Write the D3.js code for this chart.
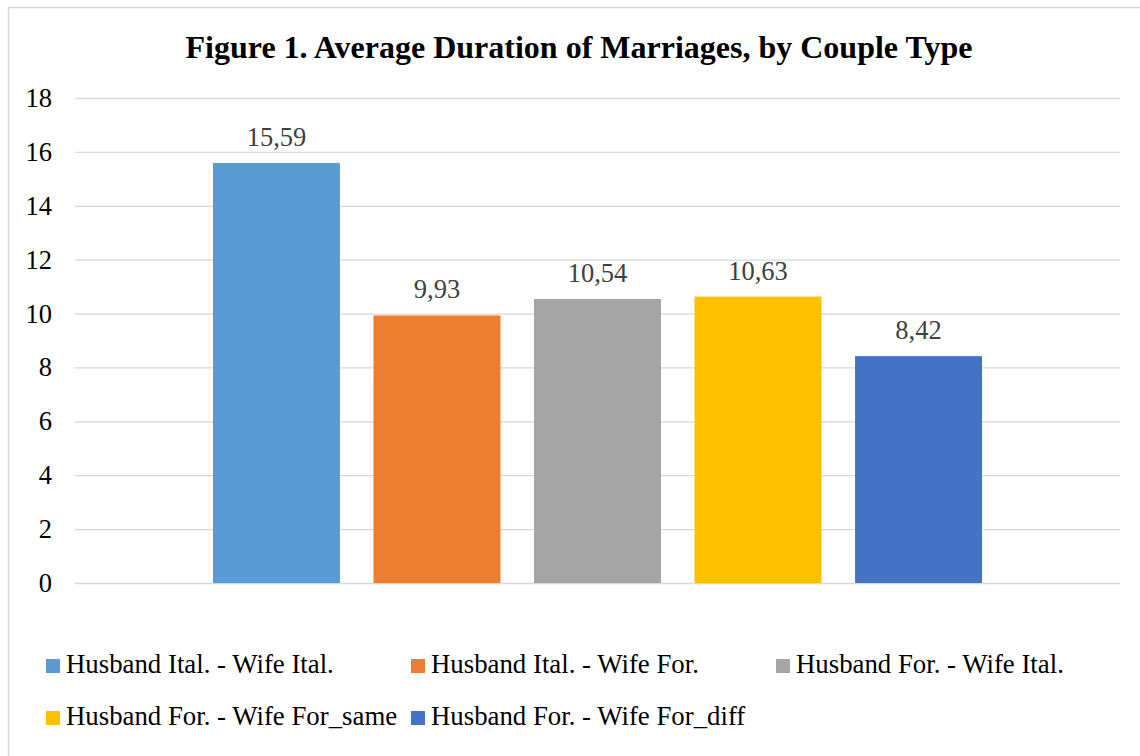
<!DOCTYPE html>
<html lang="en">
<head>
    <meta charset="UTF-8">
    <title>Average Duration of Marriages, by Couple Type</title>
    <style>
        html, body {
            margin: 0;
            padding: 0;
            background-color: #fff;
        }
        svg { display: block; }
        svg text { font-family: 'Liberation Serif', 'Times New Roman', serif; }
    </style>
</head>
<body>
    <div id="chart"></div>
    <script src="https://d3js.org/d3.v7.min.js"></script>
    <script>
        // DATA
        const categories = ["Husband Ital. - Wife Ital.", "Husband Ital. - Wife For.", "Husband For. - Wife Ital.",
            "Husband For. - Wife For_same", "Husband For. - Wife For_diff"];
        const durations = [15.59, 9.93, 10.54, 10.63, 8.42];
        const colors = ["#5b9bd5", "#ed7d31", "#a5a5a5", "#ffc000", "#4472c4"];
        const yTicks = [0, 2, 4, 6, 8, 10, 12, 14, 16, 18];

        const W = 1140, H = 756;
        const plot = {left: 75, right: 1120, top: 98, bottom: 583};
        const serif = "'Liberation Serif', 'Times New Roman', serif";

        const svg = d3.select("#chart")
            .append("svg")
            .attr("width", W)
            .attr("height", H)
            .attr("font-family", serif);

        // chart border (runs off the right / bottom like the source)
        svg.append("rect")
            .attr("x", 8.5).attr("y", 7.5)
            .attr("width", 1200).attr("height", 800)
            .attr("fill", "#fff")
            .attr("stroke", "#d9d9d9")
            .attr("stroke-width", 1.5);

        // TITLE
        svg.append("text")
            .attr("x", 579)
            .attr("y", 58)
            .attr("text-anchor", "middle")
            .attr("font-family", serif)
            .attr("font-weight", "bold")
            .attr("font-size", 32)
            .attr("fill", "#000")
            .text("Figure 1. Average Duration of Marriages, by Couple Type");

        // SCALES
        const y = d3.scaleLinear()
            .domain([0, 18])
            .range([plot.bottom, plot.top]);

        const x0 = d3.scaleBand()
            .domain(["all"])
            .range([plot.left, plot.right])
            .paddingInner(0)
            .paddingOuter(0.1794);

        const x1 = d3.scaleBand()
            .domain(categories)
            .range([0, x0.bandwidth()])
            .paddingInner(0.209)
            .paddingOuter(0);

        // GRIDLINES + Y AXIS
        const yAxis = d3.axisLeft(y)
            .tickValues(yTicks)
            .tickSize(-(plot.right - plot.left))
            .tickPadding(23)
            .tickFormat(d3.format("d"));

        const gy = svg.append("g")
            .attr("transform", `translate(${plot.left},0)`)
            .call(yAxis)
            .attr("font-family", serif);
        gy.select(".domain").remove();
        gy.selectAll(".tick line")
            .attr("stroke", "#d9d9d9")
            .attr("stroke-width", 1.3);
        gy.selectAll(".tick text")
            .attr("font-family", serif)
            .attr("font-size", 26.5)
            .attr("fill", "#000");

        // BARS
        const gx = x0("all");
        svg.append("g")
            .selectAll("rect")
            .data(durations)
            .enter()
            .append("rect")
            .attr("x", (d, i) => gx + x1(categories[i]))
            .attr("y", d => y(d))
            .attr("width", x1.bandwidth())
            .attr("height", d => y(0) - y(d))
            .attr("fill", (d, i) => colors[i]);

        // VALUE LABELS
        svg.append("g")
            .selectAll("text")
            .data(durations)
            .enter()
            .append("text")
            .attr("x", (d, i) => gx + x1(categories[i]) + x1.bandwidth() / 2)
            .attr("y", d => y(d) - 17)
            .attr("text-anchor", "middle")
            .attr("font-family", serif)
            .attr("font-size", 26.5)
            .attr("fill", "#404040")
            .text(d => d.toFixed(2).replace(".", ","));

        // LEGEND
        const legX = [46, 411, 776];
        const legY = [673, 725];
        const legend = svg.append("g")
            .selectAll("g")
            .data(categories)
            .enter()
            .append("g")
            .attr("transform", (d, i) => `translate(${legX[i % 3]},${legY[Math.floor(i / 3)]})`);
        legend.append("rect")
            .attr("x", 0)
            .attr("y", -14)
            .attr("width", 14)
            .attr("height", 14)
            .attr("fill", (d, i) => colors[i]);
        legend.append("text")
            .attr("x", 20)
            .attr("y", 0)
            .attr("font-family", serif)
            .attr("font-size", 26.8)
            .attr("fill", "#000")
            .text(d => d);
    </script>
</body>
</html>
